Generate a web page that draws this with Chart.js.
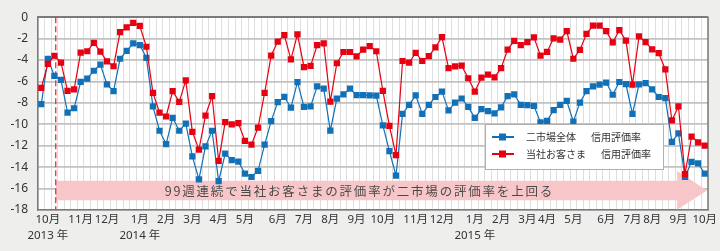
<!DOCTYPE html>
<html lang="ja">
<head>
<meta charset="utf-8">
<script src="https://cdn.jsdelivr.net/npm/chart.js@4.4.1/dist/chart.umd.min.js"></script>
<style>
  html, body { margin: 0; padding: 0; background: #eeefed; }
  #wrap { width: 720px; height: 251px; }
</style>
</head>
<body>
<div id="wrap"><canvas id="chart" width="720" height="251"></canvas></div>
<script>
// weekly points, Oct 2013 - Oct 2015
const weekCount = 102;
const weekLabels = Array.from({ length: weekCount }, (_, i) => "W" + (i + 1));

const monthTickWeeks = [1, 6, 10, 15, 19, 23, 27, 31, 36, 40, 44, 48, 52, 57, 61, 66, 70, 74, 77, 81, 86, 90, 93, 97, 101];
const monthTickLabels = ["10月", "11月", "12月", "1月", "2月", "3月", "4月", "5月", "6月", "7月", "8月", "9月",
  "10月", "11月", "12月", "1月", "2月", "3月", "4月", "5月", "6月", "7月", "8月", "9月", "10月"];
const yearTickWeeks = [1, 15, 66];
const yearTickLabels = ["2013 年", "2014 年", "2015 年"];

// 二市場全体 信用評価率
const marketRate = [
  -8.12, -3.9, -5.48, -5.85, -8.9, -8.5, -6.03, -5.73, -5.0, -4.42,
  -6.27, -6.9, -3.88, -3.15, -2.45, -2.6, -3.79, -8.33, -10.6, -11.85,
  -9.39, -10.6, -9.94, -13.0, -15.15, -12.06, -10.6, -15.3, -12.74, -13.34,
  -13.48, -14.6, -14.92, -14.34, -11.9, -9.7, -7.92, -7.43, -8.45, -6.06,
  -8.38, -8.32, -6.46, -6.67, -10.58, -7.6, -7.2, -6.67, -7.27, -7.27,
  -7.3, -7.32, -10.1, -12.5, -14.8, -9.03, -8.19, -7.3, -9.03, -8.18,
  -7.45, -6.95, -8.7, -7.98, -7.59, -8.37, -9.4, -8.58, -8.76, -8.97,
  -8.42, -7.36, -7.2, -8.18, -8.21, -8.27, -9.82, -9.67, -8.67, -8.18,
  -7.82, -9.75, -7.97, -6.91, -6.45, -6.3, -6.1, -7.24, -6.05, -6.24,
  -9.03, -6.27, -6.15, -6.73, -7.45, -7.55, -11.64, -10.85, -14.9, -13.5,
  -13.65, -14.61
];

// 当社お客さま 信用評価率
const customerRate = [
  -6.6, -4.36, -3.6, -4.24, -6.88, -6.73, -3.3, -3.18, -2.39, -3.21,
  -4.12, -4.58, -1.39, -0.94, -0.52, -0.82, -2.76, -7.06, -8.9, -9.27,
  -6.9, -7.9, -5.9, -10.7, -12.36, -9.18, -7.36, -13.42, -9.79, -10.0,
  -9.88, -11.55, -11.9, -10.3, -7.06, -3.58, -2.27, -1.67, -3.94, -1.61,
  -4.67, -4.55, -2.6, -2.45, -7.88, -4.3, -3.25, -3.25, -3.65, -3.03,
  -2.7, -3.18, -6.88, -10.15, -12.88, -4.09, -4.24, -3.34, -4.09, -3.64,
  -2.82, -1.85, -4.76, -4.6, -4.52, -5.7, -6.94, -5.65, -5.37, -5.62,
  -4.76, -3.03, -2.21, -2.61, -2.33, -1.88, -3.58, -3.24, -1.97, -2.09,
  -1.3, -3.88, -3.05, -1.55, -0.78, -0.79, -1.3, -2.36, -1.21, -2.18,
  -6.3, -1.8, -2.33, -3.0, -3.36, -4.88, -9.64, -8.33, -14.65, -11.15,
  -11.68, -11.98
];

const streakText = "99週連続で当社お客さまの評価率が二市場の評価率を上回る";
const streakStartWeek = 2.2;

const FONT = "'Noto Sans', 'Noto Sans CJK JP', sans-serif";
const CJK_FONT = "'Noto Sans CJK JP', sans-serif";
const FRAME = "#7a7a7a";

// white plot area on the grey page
const plotBackground = {
  id: "plotBackground",
  beforeDraw(chart) {
    const { ctx, chartArea } = chart;
    ctx.save();
    ctx.fillStyle = "#ffffff";
    ctx.fillRect(chartArea.left, chartArea.top, chartArea.right - chartArea.left, chartArea.bottom - chartArea.top);
    ctx.restore();
  },
};

// frame, pink arrow and the dashed start line
const streakArrow = {
  id: "streakArrow",
  beforeDatasetsDraw(chart) {
    const { ctx, chartArea, scales } = chart;
    const x = scales.x;
    const y = scales.y;

    ctx.save();
    ctx.strokeStyle = FRAME;
    ctx.lineWidth = 1.5;
    ctx.beginPath();
    ctx.moveTo(chartArea.left, chartArea.top);
    ctx.lineTo(chartArea.right, chartArea.top);
    ctx.lineTo(chartArea.right, chartArea.bottom);
    ctx.stroke();

    const x0 = x.getPixelForValue(streakStartWeek);
    const xHead = x.getPixelForValue(96.8);
    const xTip = chartArea.right - 1;
    const bandTop = y.getPixelForValue(-15.27);
    const bandBot = y.getPixelForValue(-17.09);
    const headTop = y.getPixelForValue(-14.36);
    const headBot = chartArea.bottom - 0.5;
    const mid = (bandTop + bandBot) / 2;

    ctx.fillStyle = "#f6c6c8";
    ctx.beginPath();
    ctx.moveTo(x0, bandTop);
    ctx.lineTo(xHead, bandTop);
    ctx.lineTo(xHead, headTop);
    ctx.lineTo(xTip, mid);
    ctx.lineTo(xHead, headBot);
    ctx.lineTo(xHead, bandBot);
    ctx.lineTo(x0, bandBot);
    ctx.closePath();
    ctx.fill();

    ctx.font = "12.5px " + CJK_FONT;
    ctx.letterSpacing = "1.8px";
    ctx.fillStyle = "#4a4a4a";
    ctx.textBaseline = "middle";
    ctx.textAlign = "left";
    ctx.fillText(streakText, x.getPixelForValue(18.8), mid + 1);
    ctx.letterSpacing = "0px";

    ctx.strokeStyle = "#e8313b";
    ctx.lineWidth = 1.3;
    ctx.setLineDash([6, 3]);
    ctx.beginPath();
    ctx.moveTo(x0, chartArea.top);
    ctx.lineTo(x0, chartArea.bottom);
    ctx.stroke();
    ctx.restore();
  },
};

// boxed legend inside the plot
const legendBox = {
  id: "legendBox",
  afterDatasetsDraw(chart) {
    const ctx = chart.ctx;
    const bx = 485, by = 124, bw = 178, bh = 45;
    ctx.save();
    ctx.fillStyle = "#ffffff";
    ctx.strokeStyle = "#b0b0b0";
    ctx.lineWidth = 1;
    ctx.fillRect(bx, by, bw, bh);
    ctx.strokeRect(bx + 0.5, by + 0.5, bw, bh);

    ctx.font = "10px " + CJK_FONT;
    ctx.textBaseline = "middle";
    ctx.textAlign = "left";
    chart.data.datasets.forEach((ds, i) => {
      const rowY = by + 13 + i * 17;
      ctx.strokeStyle = ds.borderColor;
      ctx.lineWidth = 2;
      ctx.beginPath();
      ctx.moveTo(bx + 7, rowY);
      ctx.lineTo(bx + 29, rowY);
      ctx.stroke();
      ctx.fillStyle = ds.borderColor;
      ctx.fillRect(bx + 14, rowY - 3.5, 7, 7);

      const parts = ds.label.split("　");
      ctx.fillStyle = "#333333";
      ctx.fillText(parts[0], bx + 41, rowY);
      const w = ctx.measureText(parts[0]).width;
      ctx.fillText(parts[1], bx + 41 + w + 15, rowY);
    });
    ctx.restore();
  },
};

new Chart(document.getElementById("chart").getContext("2d"), {
  type: "line",
  data: {
    labels: weekLabels,
    datasets: [
      {
        label: "二市場全体　信用評価率",
        data: marketRate,
        borderColor: "#1070b8",
        backgroundColor: "#1070b8",
        borderWidth: 1.2,
        pointStyle: "rect",
        pointRadius: 4.4,
        pointBorderWidth: 0,
        pointBackgroundColor: "#1070b8",
        tension: 0,
        order: 1,
      },
      {
        label: "当社お客さま　信用評価率",
        data: customerRate,
        borderColor: "#e60012",
        backgroundColor: "#e60012",
        borderWidth: 1.2,
        pointStyle: "rect",
        pointRadius: 4.4,
        pointBorderWidth: 0,
        pointBackgroundColor: "#e60012",
        tension: 0,
        order: 0,
      },
    ],
  },
  options: {
    responsive: false,
    animation: false,
    devicePixelRatio: 1,
    layout: { padding: { top: 12, right: 12, left: 0, bottom: 0 } },
    plugins: {
      legend: { display: false },
      tooltip: { enabled: false },
    },
    scales: {
      x: {
        offset: true,
        grid: { offset: true, color: "#dedede", lineWidth: 1, drawTicks: false },
        border: { color: FRAME, width: 1.5 },
        ticks: {
          autoSkip: false,
          maxRotation: 0,
          minRotation: 0,
          padding: 2,
          color: "#333333",
          font: { size: 11.5, family: FONT, lineHeight: 1.4 },
          callback: (value, index) => {
            const m = monthTickWeeks.indexOf(index);
            if (m < 0) return "";
            const yi = yearTickWeeks.indexOf(index);
            return yi < 0 ? monthTickLabels[m] : [monthTickLabels[m], yearTickLabels[yi]];
          },
        },
        afterFit: (scale) => { scale.height = 41; },
      },
      y: {
        min: -18,
        max: 0,
        grid: {
          color: (c) => (c.tick && c.tick.value === 0 ? FRAME : "#c2c2c2"),
          lineWidth: 1.8,
          drawTicks: false,
        },
        border: { color: FRAME, width: 1.5 },
        ticks: {
          stepSize: 2,
          padding: 10,
          color: "#333333",
          font: { size: 12, family: FONT },
        },
        afterFit: (scale) => { scale.width = 38; },
      },
    },
  },
  plugins: [plotBackground, streakArrow, legendBox],
});
</script>
</body>
</html>
